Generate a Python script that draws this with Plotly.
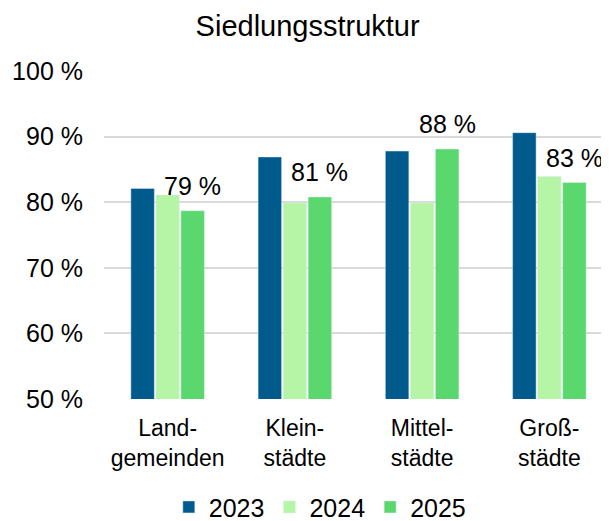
import plotly.graph_objects as go

categories = ["Land-<br>gemeinden", "Klein-<br>städte", "Mittel-<br>städte", "Groß-<br>städte"]
v2023 = [82.1, 86.9, 87.8, 90.6]
v2024 = [81.1, 79.9, 79.9, 83.9]
v2025 = [78.7, 80.8, 88.1, 83.0]
labels2025 = ["79 %", "81 %", "88 %", "83 %"]

FONT = "Liberation Sans, Arial, sans-serif"

fig = go.Figure()
fig.add_bar(name="2023", x=categories, y=v2023, marker_color="#005a8c")
fig.add_bar(name="2024", x=categories, y=v2024, marker_color="#b5f5a5")
fig.add_bar(name="2025", x=categories, y=v2025, marker_color="#5ad86e")

for c, v, t in zip(categories, v2025, labels2025):
    fig.add_annotation(x=c, y=v, text=t, showarrow=False, xref="x", yref="y",
                       xanchor="center", yanchor="bottom", xshift=25, yshift=9,
                       font=dict(size=25, color="#000000", family=FONT))

fig.update_layout(
    width=609, height=513,
    paper_bgcolor="white", plot_bgcolor="white",
    font=dict(family=FONT, color="#000000", size=20),
    title=dict(text="Siedlungsstruktur", x=0.492, xanchor="center", y=0.985, yanchor="top",
               pad=dict(t=0, b=0, l=0, r=0), font=dict(size=29, family=FONT)),
    margin=dict(l=96, r=4, t=63, b=122, autoexpand=False),
    barmode="group", bargap=0.41, bargroupgap=0.06,
    legend=dict(orientation="h", x=0.424, xanchor="center", yref="container",
                y=0.027, yanchor="middle", font=dict(size=25), traceorder="normal"),
    xaxis=dict(showline=False, ticks="", tickfont=dict(size=23), ticklabelstandoff=13,
               automargin=False),
    yaxis=dict(range=[50, 100], dtick=10, ticksuffix=" %", showgrid=True,
               gridcolor="#d9d9d9", gridwidth=1.5, zeroline=False, ticks="",
               tickfont=dict(size=25), ticklabelstandoff=20, automargin=False),
)

fig.write_html("out.html")
